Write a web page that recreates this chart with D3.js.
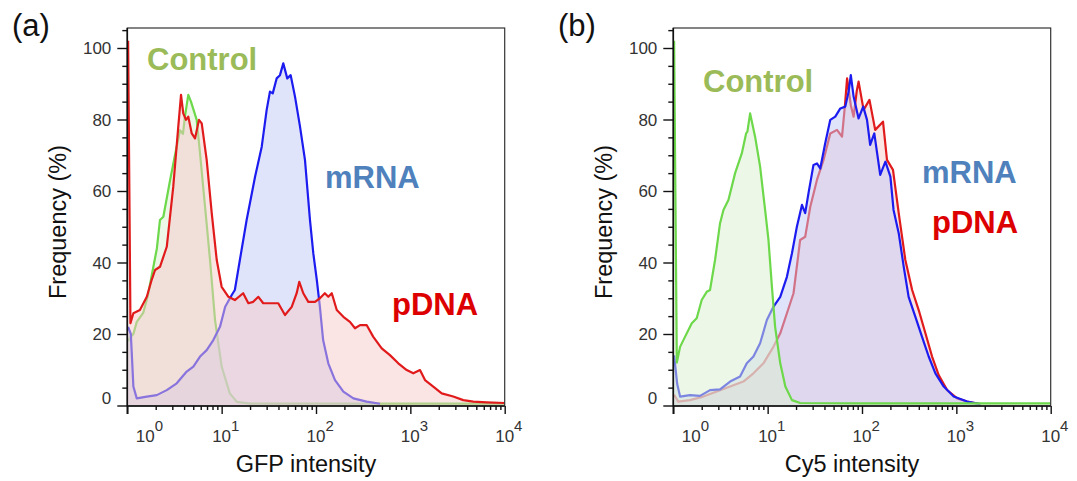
<!DOCTYPE html>
<html>
<head>
<meta charset="utf-8">
<script src="https://cdn.jsdelivr.net/npm/d3@7"></script>
<style>
  body { margin: 0; background: #fff; }
  svg { display: block; font-family: "Liberation Sans", Arial, sans-serif; }
</style>
</head>
<body>
<svg width="1077" height="481"></svg>
<script>
// ---- data (intensity, frequency %) ----
const gfpControlX = [1.02, 1.07, 1.16, 1.26, 1.48, 1.66, 1.89, 2.06, 2.22, 2.41, 2.84, 3.2, 3.62, 3.89, 4.08, 4.43, 4.73, 5.44, 5.9, 6.67, 7.53, 8.51, 10.0, 12.2, 14.5, 20, 50, 200, 1000, 10000];
const gfpControlY = [18, 19, 20, 23.4, 26, 31, 38.8, 44, 51.9, 52.8, 63, 70, 77, 76, 80.8, 86.9, 85, 79.9, 70.5, 55.6, 40.7, 23.9, 10.9, 3.4, 1, 0.5, 0.5, 0.5, 0.5, 0.5];

const gfpMrnaX = [1.02, 1.09, 1.16, 1.26, 1.61, 2.05, 2.62, 3.34, 4.26, 5.01, 5.9, 6.94, 8.16, 9.6, 10.9, 12.8, 13.8, 15.6, 18.4, 22.6, 26.6, 30, 32.5, 34.8, 38.3, 41.5, 45, 49.6, 53.9, 59.9, 67.7, 76.4, 86.3, 93.6, 102, 110, 119, 135, 159, 195, 249, 344, 477];
const gfpMrnaY = [22, 20, 5.3, 2, 2.5, 2.9, 4.3, 6.2, 9.5, 10.9, 13.7, 15.5, 18.3, 22, 27.6, 30.9, 32.3, 40.7, 51.9, 64, 72.4, 82.7, 87.8, 87.3, 91.5, 92.4, 95.7, 91.5, 92.4, 86.4, 78, 68.7, 51.9, 42.6, 35.1, 27.6, 18.3, 11.8, 7.1, 3.9, 2, 1.1, 0.5];

const gfpPdnaX = [1.02, 1.08, 1.16, 1.36, 1.61, 1.81, 1.97, 2.22, 2.62, 3.07, 3.47, 3.71, 3.92, 4.19, 4.43, 4.82, 5.22, 5.75, 6.15, 6.94, 7.85, 8.87, 10.0, 11.8, 13.8, 16.9, 19.2, 21.6, 24.5, 27.6, 32.5, 39.8, 46.9, 55.3, 62.4, 66.5, 73.3, 82.9, 97.6, 110, 124, 135, 147, 166, 195, 229, 259, 293, 344, 405, 497, 608, 745, 915, 1075, 1265, 1430, 1750, 2150, 2850, 3640, 4650, 6440, 10000];
const gfpPdnaY = [102, 23, 25.8, 26.7, 30.4, 35.1, 37.9, 38.8, 44.4, 61.2, 78, 86.9, 81.7, 79.9, 80.8, 76.1, 74.7, 79.9, 78.9, 68.7, 53.8, 40.7, 33.2, 30.4, 29.5, 31.4, 28.6, 29, 30.4, 28.6, 28.6, 28.6, 25.3, 27.6, 31.4, 34.6, 31.4, 29, 29, 30, 31.4, 30.4, 31.4, 26.7, 24.8, 23.4, 21.6, 22.5, 22.5, 19.2, 16, 14.1, 11.8, 9.9, 9, 9.9, 7.1, 5.3, 3.4, 2.5, 1.5, 1.1, 0.9, 0.7];

const cy5ControlX = [1.02, 1.09, 1.18, 1.33, 1.57, 1.77, 2.0, 2.26, 2.45, 2.77, 3.13, 3.4, 3.84, 4.52, 5.32, 5.91, 6.1, 6.52, 7.36, 8.32, 9.4, 10.2, 11.1, 12, 13.6, 15.4, 18.1, 22.1, 100, 1000, 10000];
const cy5ControlY = [102, 12, 16.4, 19.2, 23, 24.4, 29.5, 31.8, 32.3, 40.7, 51, 54.7, 57.5, 65, 70.5, 76.1, 76.6, 81.7, 75.2, 66.8, 54.7, 46.3, 33.2, 22, 11.8, 5.3, 1.5, 0.7, 0.6, 0.6, 0.6];

const cy5MrnaX = [1.02, 1.1, 1.18, 1.5, 1.92, 2.45, 3.13, 4.0, 5.1, 6.01, 7.07, 8.32, 9.81, 11.5, 13.6, 16, 18.1, 20.4, 23.1, 25, 27.1, 30.6, 33.3, 36.1, 40.7, 46.1, 52.1, 58.9, 66.5, 72.1, 76.1, 81.5, 92, 103, 113, 122, 135, 156, 177, 200, 216, 245, 277, 312, 368, 433, 509, 600, 735, 938, 1300, 1800];
const cy5MrnaY = [14, 6, 2.5, 2.9, 2.7, 4.3, 4.5, 6.7, 8.1, 11.8, 13.7, 17.4, 23.9, 27.6, 30.4, 36, 42.6, 50, 56.1, 53.8, 59.4, 67.3, 67.7, 66.3, 73.3, 79.9, 80.8, 83.1, 83.6, 87.8, 92.4, 86.4, 80.3, 83.6, 79.9, 72.9, 76.1, 64.5, 68.2, 64, 54.7, 48.2, 38.8, 30.4, 24.8, 19.2, 13.7, 9, 5.3, 2.5, 1.1, 0.4];

const cy5PdnaX = [1.02, 1.13, 1.5, 2.08, 2.89, 4.0, 5.53, 7.07, 9.02, 11.5, 13.6, 16, 18.8, 22.1, 25, 28.3, 33.3, 39.1, 46.1, 54.3, 61.4, 66, 69.5, 76.1, 81.5, 88, 92, 104, 120, 138, 167, 184, 213, 245, 288, 340, 399, 470, 553, 650, 798, 1020, 1300, 1800];
const cy5PdnaY = [3, 1.1, 1.5, 2.5, 3.9, 5.3, 6.7, 9, 11.8, 16.4, 20.2, 25.8, 31.4, 46.3, 47.2, 55.6, 63.1, 68.7, 76.1, 77.1, 75.2, 84, 91.5, 84, 80.8, 88, 90.6, 82.7, 85.5, 77.1, 79.4, 68.7, 65.9, 53.8, 40.7, 32.3, 26.7, 20.2, 13.7, 8.5, 4.3, 2, 1.1, 0.3];

const xMajor = [1, 10, 100, 1000, 10000];
const xExponents = ['0', '1', '2', '3', '4'];
const yMajor = [0, 20, 40, 60, 80, 100];
const seriesNames = ['Control', 'mRNA', 'pDNA'];

// ---- layout ----
const PLOT = {left: 127.3, right: 504.7, top: 28, bottom: 406};
const PANEL_SHIFT = 546;
const LINE_WIDTH = 2.2;
const LABEL_FONT = 31;

// half-transparent light fills so the lines underneath look faded, as in the original
const STYLE = {
    Control: {stroke: '#6cd84a', fill: 'rgba(219,239,209,0.5)', text: '#9bbb59'},
    mRNA: {stroke: '#1c1cf0', fill: 'rgba(193,201,245,0.5)', text: '#4f81bd'},
    pDNA: {stroke: '#e11b1b', fill: 'rgba(245,201,201,0.5)', text: '#dd0000'}
};

const panels = [
    {
        tag: '(a)', xTitle: 'GFP intensity',
        // draw order: control, mRNA, pDNA on top
        series: [
            {name: 'Control', x: gfpControlX, y: gfpControlY},
            {name: 'mRNA', x: gfpMrnaX, y: gfpMrnaY},
            {name: 'pDNA', x: gfpPdnaX, y: gfpPdnaY}
        ],
        labels: {Control: [147, 70], mRNA: [325, 188], pDNA: [392, 315]}
    },
    {
        tag: '(b)', xTitle: 'Cy5 intensity',
        series: [
            {name: 'pDNA', x: cy5PdnaX, y: cy5PdnaY},
            {name: 'mRNA', x: cy5MrnaX, y: cy5MrnaY},
            {name: 'Control', x: cy5ControlX, y: cy5ControlY}
        ],
        labels: {Control: [157, 92], mRNA: [376, 183], pDNA: [386, 233]}
    }
];

const svg = d3.select('svg');

var xMinor = [];
xMajor.slice(0, -1).forEach(d => { for (let k = 2; k <= 9; k++) xMinor.push(d * k); });
var yMinor = d3.range(5, 106, 5).filter(v => v % 20 !== 0);

panels.forEach((panel, pi) => {
    const g = svg.append('g').attr('transform', 'translate(' + (pi * PANEL_SHIFT) + ',0)');

    const x = d3.scaleLog().domain([1, 1e4]).range([PLOT.left, PLOT.right]);
    const y = d3.scaleLinear().domain([0, 100]).range([405.5, 48]);

    const clipId = 'clip' + pi;
    g.append('clipPath').attr('id', clipId)
        .append('rect')
        .attr('x', PLOT.left).attr('y', PLOT.top)
        .attr('width', PLOT.right - PLOT.left).attr('height', PLOT.bottom - PLOT.top);

    const plot = g.append('g').attr('clip-path', 'url(#' + clipId + ')');

    panel.series.forEach(s => {
        const pts = s.x.map((v, i) => [v, s.y[i]]);
        plot.append('path')
            .datum(pts)
            .attr('fill', STYLE[s.name].fill)
            .attr('d', d3.area()
                .x(d => x(d[0]))
                .y0(PLOT.bottom)
                .y1(d => y(d[1])));
        plot.append('path')
            .datum(pts)
            .attr('fill', 'none')
            .attr('stroke', STYLE[s.name].stroke)
            .attr('stroke-width', LINE_WIDTH)
            .attr('stroke-linejoin', 'round')
            .attr('d', d3.line()
                .x(d => x(d[0]))
                .y(d => y(d[1])));
    });

    // frame
    g.append('rect')
        .attr('x', PLOT.left).attr('y', PLOT.top)
        .attr('width', PLOT.right - PLOT.left).attr('height', PLOT.bottom - PLOT.top)
        .attr('fill', 'none').attr('stroke', '#333').attr('stroke-width', 1.2);

    /* X axis */
    const xMinAxis = g.append('g')
        .attr('transform', 'translate(0,' + PLOT.bottom + ')')
        .call(d3.axisBottom(x).tickValues(xMinor).tickSize(4).tickSizeOuter(0).tickFormat(''));
    const xMajAxis = g.append('g')
        .attr('transform', 'translate(0,' + PLOT.bottom + ')')
        .call(d3.axisBottom(x).tickValues(xMajor).tickSize(8).tickSizeOuter(0).tickFormat(''));
    [xMinAxis, xMajAxis].forEach(a => {
        a.select('.domain').remove();
        a.selectAll('line').attr('stroke', '#111').attr('stroke-width', 1.4);
    });

    xMajor.forEach((v, i) => {
        const shift = i === 0 ? 18 : 0;
        const t = g.append('text')
            .attr('x', x(v) - 9.5 + shift)
            .attr('y', 442)
            .attr('font-size', 17)
            .attr('fill', '#333');
        t.append('tspan').text('10');
        t.append('tspan').attr('dy', -11).attr('font-size', 15).text(xExponents[i]);
    });

    /* Y axis */
    const yMinAxis = g.append('g')
        .attr('transform', 'translate(' + PLOT.left + ',0)')
        .call(d3.axisLeft(y).tickValues(yMinor).tickSize(5).tickSizeOuter(0).tickFormat(''));
    const yMajAxis = g.append('g')
        .attr('transform', 'translate(' + PLOT.left + ',0)')
        .call(d3.axisLeft(y).tickValues(yMajor).tickSize(10).tickPadding(6).tickSizeOuter(0));
    [yMinAxis, yMajAxis].forEach(a => {
        a.select('.domain').remove();
        a.selectAll('line').attr('stroke', '#111').attr('stroke-width', 1.4);
    });
    yMajAxis.attr('font-size', null).attr('font-family', null);
    yMajAxis.selectAll('text')
        .attr('font-size', 17)
        .attr('fill', '#333')
        .attr('dy', d => d === 0 ? '-0.1em' : '0.34em');

    // axis lines
    g.append('line')
        .attr('x1', PLOT.left).attr('x2', PLOT.left)
        .attr('y1', PLOT.top).attr('y2', PLOT.bottom + 8)
        .attr('stroke', '#111').attr('stroke-width', 1.6);
    g.append('line')
        .attr('x1', PLOT.left).attr('x2', PLOT.right)
        .attr('y1', PLOT.bottom).attr('y2', PLOT.bottom)
        .attr('stroke', '#111').attr('stroke-width', 1.6);

    // titles
    g.append('text')
        .attr('x', 306).attr('y', 472)
        .attr('text-anchor', 'middle')
        .attr('font-size', 23.5)
        .attr('fill', '#111')
        .text(panel.xTitle);
    g.append('text')
        .attr('transform', 'translate(66,222) rotate(-90)')
        .attr('text-anchor', 'middle')
        .attr('font-size', 23.5)
        .attr('fill', '#111')
        .text('Frequency (%)');
    g.append('text')
        .attr('x', 12).attr('y', 36)
        .attr('font-size', 31)
        .attr('fill', '#111')
        .text(panel.tag);

    // series labels
    seriesNames.forEach(name => {
        const p = panel.labels[name];
        g.append('text')
            .attr('x', p[0]).attr('y', p[1])
            .attr('font-size', LABEL_FONT)
            .attr('font-weight', 'bold')
            .attr('fill', STYLE[name].text)
            .text(name);
    });
});
</script>
</body>
</html>
